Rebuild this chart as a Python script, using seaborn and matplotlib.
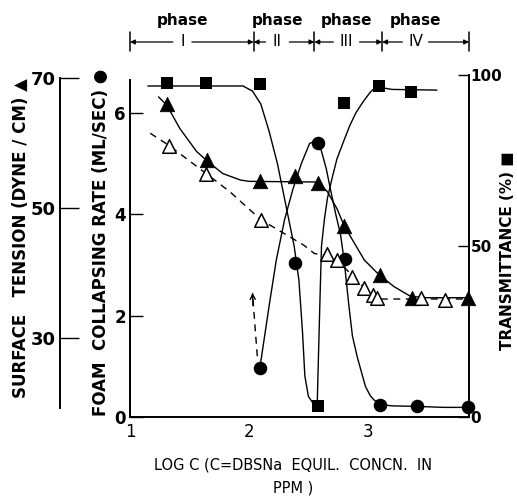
import matplotlib
matplotlib.use("Agg")
import matplotlib.pyplot as plt
import seaborn as sns

# ---- measured points -------------------------------------------------------
log_c_trans = [1.31, 1.64, 2.09, 2.58, 2.80, 3.09, 3.36]
transmittance = [97.8, 97.8, 97.4, 3.3, 91.7, 96.8, 95.1]

log_c_foam = [2.09, 2.39, 2.58, 2.81, 3.10, 3.41, 3.84]
foam_rate = [0.96, 3.03, 5.41, 3.11, 0.24, 0.21, 0.19]

log_c_st_filled = [1.31, 1.65, 2.09, 2.39, 2.58, 2.80, 3.10, 3.37, 3.84]
st_filled = [66.0, 57.4, 54.2, 54.9, 53.8, 47.3, 39.7, 36.2, 36.1]

log_c_st_open = [1.33, 1.64, 2.10, 2.66, 2.74, 2.87, 2.97, 3.04, 3.08, 3.45, 3.65]
st_open = [59.5, 55.3, 48.2, 42.9, 42.0, 39.4, 37.7, 36.6, 36.1, 36.1, 35.9]

# ---- hand-drawn trend curves (traced) -------------------------------------
trans_curve_x = [1.15, 1.95, 2.03, 2.10, 2.17, 2.24, 2.31, 2.38, 2.42, 2.45,
                 2.47, 2.50, 2.54, 2.57, 2.575, 2.58, 2.59, 2.60, 2.61, 2.635,
                 2.66, 2.70, 2.74, 2.80, 2.85, 2.90, 2.96, 3.02, 3.07, 3.20, 3.58]
trans_curve_y = [96.8, 96.8, 95.3, 91.5, 83.5, 74.0, 62.0, 50.0, 40.0, 25.0,
                 12.0, 6.0, 4.0, 3.3, 5.0, 12.0, 25.0, 38.0, 50.0, 58.0,
                 64.0, 70.0, 75.5, 81.0, 85.4, 89.0, 92.2, 95.0, 96.6, 95.8, 95.6]

foam_curve_x = [2.09, 2.10, 2.17, 2.23, 2.30, 2.37, 2.44, 2.51, 2.56, 2.60,
                2.65, 2.69, 2.73, 2.77, 2.80, 2.84, 2.87, 2.91, 2.95, 2.98,
                3.02, 3.05, 3.10, 3.20, 3.40, 3.64, 3.84]
foam_curve_y = [0.96, 1.10, 2.20, 3.10, 3.90, 4.50, 5.00, 5.40, 5.45, 5.33,
                4.90, 4.44, 4.00, 3.60, 3.10, 2.20, 1.60, 1.19, 0.85, 0.60,
                0.42, 0.34, 0.25, 0.22, 0.21, 0.19, 0.19]

st_filled_curve_x = [1.24, 1.31, 1.42, 1.56, 1.65, 1.78, 1.93, 2.00, 2.58, 2.66,
                     2.74, 2.80, 2.87, 2.97, 3.09, 3.22, 3.36, 3.50, 3.85]
st_filled_curve_y = [67.1, 65.8, 62.2, 58.7, 57.2, 55.3, 54.3, 54.1, 54.0, 52.5,
                     49.9, 47.3, 45.1, 42.0, 39.8, 37.9, 36.4, 36.2, 36.2]

st_open_curve_x = [1.17, 1.33, 1.64, 1.84, 2.10, 2.46, 2.55, 2.66, 2.74, 2.87,
                   2.97, 3.04, 3.08, 3.20, 3.85]
st_open_curve_y = [61.5, 59.6, 55.3, 52.5, 48.2, 44.3, 43.0, 42.7, 42.0, 39.6,
                   37.7, 36.5, 36.0, 36.0, 36.0]

# dashed pointer above the lowest foam point
pointer_x = [2.07, 2.03]
pointer_y = [1.20, 2.45]

# phase boundaries along log C and the centres of the phase numerals
phase_bounds = [1.0, 2.04, 2.55, 3.12, 3.85]
phase_names = ["I", "II", "III", "IV"]
phase_label_x = [1.44, 2.24, 2.82, 3.40]
phase_gap = [0.08, 0.10, 0.11, 0.11]

x_ticks = [1, 2, 3]
foam_ticks = [0, 2, 4, 6]
st_ticks = [30, 50, 70]
trans_ticks = [0, 50, 100]

# ---- figure ---------------------------------------------------------------
sns.set_style("white")
ink = "black"
plt.rcParams.update({
    "font.family": ["DejaVu Sans"],
    "text.color": ink,
    "axes.labelcolor": ink,
    "xtick.color": ink,
    "ytick.color": ink,
})

W, H = 517, 500
fig = plt.figure(figsize=(W / 100, H / 100), dpi=100)
ax = fig.add_axes([130 / W, 83 / H, 339 / W, 344 / H])
ax_t = ax.twinx()
ax_s = ax.twinx()

lw = 1.0
dash = (0, (5, 4))

# foam collapsing rate (main axis)
sns.lineplot(x=foam_curve_x, y=foam_curve_y, sort=False, ax=ax, color=ink, lw=lw)
sns.scatterplot(x=log_c_foam, y=foam_rate, ax=ax, marker="o", s=95, color=ink,
                edgecolor=ink, linewidth=0, zorder=5, clip_on=False)
ax.plot(pointer_x, pointer_y, color=ink, lw=lw, linestyle=dash)
ax.annotate("", xy=(pointer_x[1], pointer_y[1]),
            xytext=(pointer_x[1] + 0.004, pointer_y[1] - 0.25),
            arrowprops=dict(arrowstyle="->", color=ink, lw=lw,
                            shrinkA=0, shrinkB=0, mutation_scale=9))

# transmittance
sns.lineplot(x=trans_curve_x, y=trans_curve_y, sort=False, ax=ax_t, color=ink, lw=lw)
sns.scatterplot(x=log_c_trans, y=transmittance, ax=ax_t, marker="s", s=80,
                color=ink, edgecolor=ink, linewidth=0, zorder=5, clip_on=False)

# surface tension
sns.lineplot(x=st_filled_curve_x, y=st_filled_curve_y, sort=False, ax=ax_s,
             color=ink, lw=lw)
sns.lineplot(x=st_open_curve_x, y=st_open_curve_y, sort=False, ax=ax_s,
             color=ink, lw=lw, linestyle=dash)
sns.scatterplot(x=log_c_st_filled, y=st_filled, ax=ax_s, marker="^", s=110,
                color=ink, edgecolor=ink, linewidth=0.5, zorder=6, clip_on=False)
sns.scatterplot(x=log_c_st_open, y=st_open, ax=ax_s, marker="^", s=95,
                color="white", edgecolor=ink, linewidth=1.1, zorder=6, clip_on=False)

# ---- axes, spines and ticks -----------------------------------------------
ax.set_xlim(1, 3.85)
ax.set_ylim(0, 6.79)
ax_t.set_ylim(0, 100.6)
ax_s.set_ylim(17.85, 70.77)

for a in (ax, ax_t, ax_s):
    for s in a.spines.values():
        s.set_visible(False)
        s.set_linewidth(1.4)
        s.set_color(ink)
    a.set_xlabel("")
    a.set_ylabel("")
    a.patch.set_visible(False)

ax.spines["left"].set_visible(True)
ax.spines["left"].set_bounds(0, 6.65)
ax.spines["bottom"].set_visible(True)
ax_t.spines["right"].set_visible(True)
ax_t.spines["right"].set_bounds(0, 100)
ax_s.spines["left"].set_visible(True)
ax_s.spines["left"].set_position(("axes", -0.2065))
ax_s.spines["left"].set_bounds(19.2, 70)
ax_s.yaxis.set_label_position("left")
ax_s.yaxis.tick_left()

ax.set_xticks(x_ticks)
ax.set_xticklabels([str(v) for v in x_ticks], fontsize=12)
ax.set_yticks(foam_ticks)
ax.set_yticklabels([str(v) for v in foam_ticks], fontsize=12, fontweight="bold")
ax.tick_params(axis="x", direction="in", length=8, width=1, pad=4)
ax.tick_params(axis="y", direction="in", length=9, width=1, pad=3)

ax_t.set_yticks(trans_ticks)
ax_t.set_yticklabels([str(v) for v in trans_ticks], fontsize=11, fontweight="bold")
ax_t.tick_params(axis="y", direction="in", length=8, width=1, pad=1)

ax_s.set_yticks(st_ticks)
ax_s.set_yticklabels([str(v) for v in st_ticks], fontsize=13, fontweight="bold")
ax_s.tick_params(axis="y", direction="in", length=14, width=1, pad=3)

# ---- axis titles ----------------------------------------------------------
fig.text(21 / W, 1 - 238 / H, "SURFACE   TENSION (DYNE / CM) \u25b2", rotation=90,
         ha="center", va="center", fontsize=12, fontweight="bold")
fig.text(101 / W, 1 - 242 / H, "FOAM  COLLAPSING RATE (ML/SEC) \u25cf", rotation=90,
         ha="center", va="center", fontsize=12, fontweight="bold")
fig.text(507 / W, 1 - 251 / H, "TRANSMITTANCE (%) \u25a0", rotation=90,
         ha="center", va="center", fontsize=11, fontweight="bold")
fig.text(293 / W, 1 - 465 / H, "LOG C (C=DBSNa  EQUIL.  CONCN.  IN",
         ha="center", va="center", fontsize=10.5)
fig.text(293 / W, 1 - 488 / H, "PPM )", ha="center", va="center", fontsize=10.5)

# ---- phase brackets above the plot ----------------------------------------
xt = ax.get_xaxis_transform()
y_bar = (417 - 42) / 344
y_word = (417 - 20) / 344
for b in phase_bounds:
    ax.plot([b, b], [y_bar - 0.026, y_bar + 0.028], transform=xt, color=ink,
            lw=1.1, clip_on=False)
for name, cx, gap, lo, hi in zip(phase_names, phase_label_x, phase_gap,
                                  phase_bounds[:-1], phase_bounds[1:]):
    ax.text(cx, y_word, "phase", transform=xt, ha="center", va="center",
            fontsize=11, fontweight="bold")
    ax.text(cx, y_bar, name, transform=xt, ha="center", va="center",
            fontsize=11)
    for start, end in ((cx - gap, lo), (cx + gap, hi)):
        ax.annotate("", xy=(end, y_bar), xytext=(start, y_bar), xycoords=xt,
                    textcoords=xt, annotation_clip=False,
                    arrowprops=dict(arrowstyle="-|>", color=ink, lw=0.9,
                                    shrinkA=0, shrinkB=0, mutation_scale=7))

fig.savefig("out.png", dpi=100)
